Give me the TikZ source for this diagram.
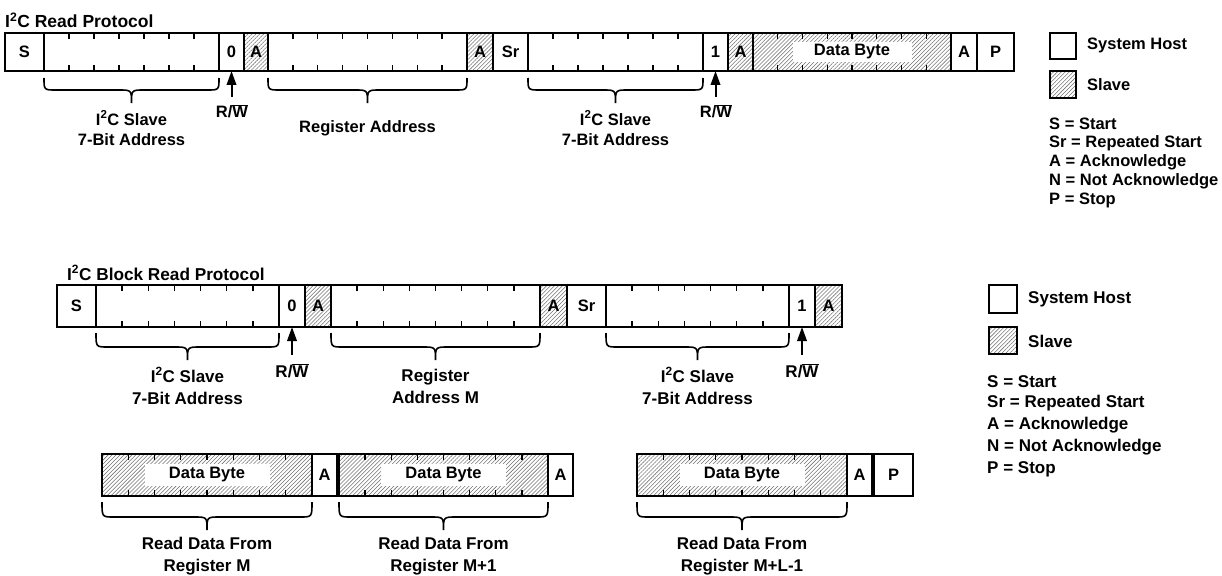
\documentclass[tikz,border=0pt]{standalone}
\usepackage{fontspec}
\setmainfont{Liberation Sans}
\usetikzlibrary{calc,patterns.meta,arrows.meta}
\newcommand\Isq{I\textsuperscript{2}C}
\newcommand\ovl[1]{$\overline{\mbox{#1}}$}
\tikzset{
  txt/.style={font=\bfseries\fontsize{16.5}{20}\selectfont,inner sep=0pt,align=center},
  btxt/.style={font=\bfseries\fontsize{17}{22}\selectfont,inner sep=0pt,align=center},
  box/.style={draw,line width=1.8pt,inner sep=0pt,outer sep=0pt,anchor=north west,font=\bfseries\fontsize{16.5}{20}\selectfont},
  host/.style={fill=white},
  slv/.style={pattern={Lines[angle=45,distance=2.8pt,line width=0.55pt]},pattern color=black!55},
  tick/.style={line width=1.4pt},
  brc/.style={line width=1.6pt},
  arr/.style={line width=2pt,-{Triangle[length=14pt,width=9.5pt]}},
  dblab/.style={fill=white,inner sep=0pt,font=\bfseries\fontsize{16.5}{20}\selectfont},
}
% field: name, x1, x2, ytop, ybot, style, text
\newcommand\fld[7]{\node[box,#6,minimum width=#3pt-#2pt,minimum height=#5pt-#4pt] (#1) at (#2,#4) {};
  \node[txt] at (#1.center) {#7};}
\newcommand\tks[2]{\pgfmathtruncatemacro\nm{#2-1}\foreach \i in {1,...,\nm}{%
  \draw[tick] ($(#1.north west)!\i/#2!(#1.north east)$) -- ++(0,6);
  \draw[tick] ($(#1.south west)!\i/#2!(#1.south east)$) -- ++(0,-6);}}
% brace: left node, right node, gap, mid, tip
\newcommand\bracex[5]{\draw[brc] let \p1=(#1.south west), \p2=(#2.south east), \p3=($(\p1)!0.5!(\p2)$) in
  (\x1,\y1-#3pt) .. controls (\x1,\y1-#4pt) .. (\x1+12pt,\y1-#4pt) -- (\x3-13pt,\y1-#4pt)
  .. controls (\x3,\y1-#4pt) .. (\x3,\y1-#5pt) .. controls (\x3,\y1-#4pt) .. (\x3+13pt,\y1-#4pt)
  -- (\x2-12pt,\y1-#4pt) .. controls (\x2,\y1-#4pt) .. (\x2,\y1-#3pt);}
\begin{document}
\begin{tikzpicture}[x=1pt,y=-1pt]
\useasboundingbox (0,0) rectangle (1222,575);
% ---------- top: I2C Read Protocol ----------
\node[txt,anchor=west,font=\bfseries\fontsize{17.5}{20}\selectfont] (t1) at (5,20) {\Isq\ Read Protocol};
\fld{tS}{5}{44}{33}{71}{host}{S}
\fld{tAd1}{44}{219}{33}{71}{host}{}
\fld{tZ}{219}{244}{33}{71}{host}{0}
\fld{tA1}{244}{268}{33}{71}{slv}{A}
\fld{tReg}{268}{467}{33}{71}{host}{}
\fld{tA2}{467}{493}{33}{71}{slv}{A}
\fld{tSr}{493}{528}{33}{71}{host}{Sr}
\fld{tAd2}{528}{703}{33}{71}{host}{}
\fld{tO}{703}{728}{33}{71}{host}{1}
\fld{tA3}{728}{753}{33}{71}{slv}{A}
\fld{tDB}{753}{951}{33}{71}{slv}{}
\fld{tA4}{951}{977}{33}{71}{host}{A}
\fld{tP}{977}{1014}{33}{71}{host}{P}
\tks{tAd1}{7}\tks{tReg}{8}\tks{tAd2}{7}\tks{tDB}{8}
\node[dblab,minimum width=119pt,minimum height=20pt] (tDBl) at (tDB.center) {Data Byte};
\bracex{tAd1}{tAd1}{7}{19}{32}
\bracex{tReg}{tReg}{7}{19}{32}
\bracex{tAd2}{tAd2}{7}{19}{32}
\node[txt] (tl1) at (131.5,128) {\Isq\ Slave\\7-Bit Address};
\node[txt] (tl2) at (367.5,128) {Register Address};
\node[txt] (tl3) at (615.5,128) {\Isq\ Slave\\7-Bit Address};
\coordinate (ta1) at (231.5,97);
\coordinate (ta2) at (715.5,97);
\draw[arr] (ta1) -- (tZ.south);
\draw[arr] (ta2) -- (tO.south);
\node[txt] (trw1) at (232,111) {R/\ovl{W}};
\node[txt] (trw2) at (716,111) {R/\ovl{W}};
% top legend
\node[box,host,minimum width=26pt,minimum height=26pt] (tlh) at (1050,33) {};
\node[box,slv,minimum width=26pt,minimum height=27pt] (tls) at (1050,71) {};
\node[txt,anchor=west] (tlht) at (1087,45) {System Host};
\node[txt,anchor=west] (tlst) at (1087,85) {Slave};
\node[txt,anchor=west] (tk1) at (1049,124) {S = Start};
\node[txt,anchor=west] (tk2) at (1049,143) {Sr = Repeated Start};
\node[txt,anchor=west] (tk3) at (1049,162) {A = Acknowledge};
\node[txt,anchor=west] (tk4) at (1049,181) {N = Not Acknowledge};
\node[txt,anchor=west] (tk5) at (1049,200) {P = Stop};
% ---------- bottom: I2C Block Read Protocol ----------
\node[txt,anchor=west,font=\bfseries\fontsize{17.2}{20}\selectfont] (t2) at (67,273) {\Isq\ Block Read Protocol};
\fld{bS}{57}{96}{285}{327}{host}{S}
\fld{bAd1}{96}{279}{285}{327}{host}{}
\fld{bZ}{279}{305}{285}{327}{host}{0}
\fld{bA1}{305}{331}{285}{327}{slv}{A}
\fld{bReg}{331}{540}{285}{327}{host}{}
\fld{bA2}{540}{567}{285}{327}{slv}{A}
\fld{bSr}{567}{606}{285}{327}{host}{Sr}
\fld{bAd2}{606}{789}{285}{327}{host}{}
\fld{bO}{789}{815}{285}{327}{host}{1}
\fld{bA3}{815}{842}{285}{327}{slv}{A}
\tks{bAd1}{7}\tks{bReg}{8}\tks{bAd2}{7}
\bracex{bAd1}{bAd1}{6}{20}{33}
\bracex{bReg}{bReg}{6}{20}{33}
\bracex{bAd2}{bAd2}{6}{20}{33}
\node[btxt] (bl1) at (187.5,386) {\Isq\ Slave\\7-Bit Address};
\node[btxt] (bl2) at (435.5,386) {Register\\Address M};
\node[btxt] (bl3) at (697.5,386) {\Isq\ Slave\\7-Bit Address};
\coordinate (ba1) at (292,355);
\coordinate (ba2) at (802,355);
\draw[arr] (ba1) -- (bZ.south);
\draw[arr] (ba2) -- (bO.south);
\node[btxt] (brw1) at (292,371) {R/\ovl{W}};
\node[btxt] (brw2) at (802,371) {R/\ovl{W}};
% data rows
\fld{cD1}{102}{312}{454}{496}{slv}{}
\fld{cA1}{312}{337}{454}{496}{host}{A}
\fld{cD2}{339}{548}{454}{496}{slv}{}
\fld{cA2}{548}{573}{454}{496}{host}{A}
\fld{cD3}{637}{847}{454}{496}{slv}{}
\fld{cA3}{847}{872}{454}{496}{host}{A}
\fld{cP}{874}{913}{454}{496}{host}{P}
\tks{cD1}{8}\tks{cD2}{8}\tks{cD3}{8}
\node[dblab,minimum width=125pt,minimum height=22pt] (cD1l) at (cD1.center) {Data Byte};
\node[dblab,minimum width=125pt,minimum height=22pt] (cD2l) at (cD2.center) {Data Byte};
\node[dblab,minimum width=125pt,minimum height=22pt] (cD3l) at (cD3.center) {Data Byte};
\bracex{cD1}{cD1}{6}{21}{34}
\bracex{cD2}{cD2}{6}{21}{34}
\bracex{cD3}{cD3}{6}{21}{34}
\node[btxt] (cl1) at (207,556) {Read Data From\\Register M};
\node[btxt] (cl2) at (443.5,556) {Read Data From\\Register M+1};
\node[btxt] (cl3) at (742,556) {Read Data From\\Register M+L-1};
% bottom legend
\node[box,host,minimum width=28pt,minimum height=28pt] (blh) at (989,285) {};
\node[box,slv,minimum width=28pt,minimum height=27pt] (bls) at (989,327) {};
\node[btxt,anchor=west] (blht) at (1028,299) {System Host};
\node[btxt,anchor=west] (blst) at (1028,341) {Slave};
\node[btxt,anchor=west] (bk1) at (987,382) {S = Start};
\node[btxt,anchor=west] (bk2) at (987,403) {Sr = Repeated Start};
\node[btxt,anchor=west] (bk3) at (987,425) {A = Acknowledge};
\node[btxt,anchor=west] (bk4) at (987,447) {N = Not Acknowledge};
\node[btxt,anchor=west] (bk5) at (987,469) {P = Stop};
\end{tikzpicture}
\end{document}
